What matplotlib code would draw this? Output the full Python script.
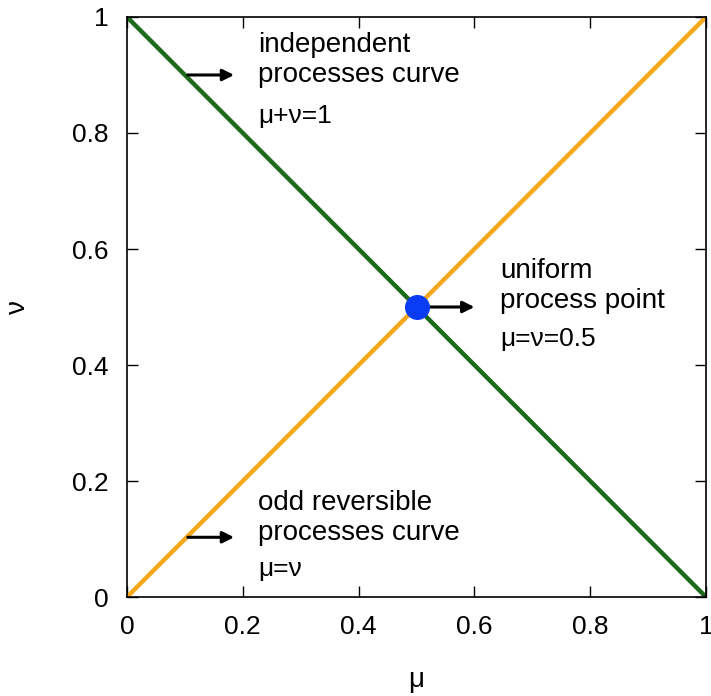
import matplotlib.pyplot as plt
import numpy as np

mu = np.array([0.0, 1.0])
nu_indep = 1 - mu
nu_odd = mu.copy()
point = (0.5, 0.5)

ticks = [0, 0.2, 0.4, 0.6, 0.8, 1]
tick_labels = ["0", "0.2", "0.4", "0.6", "0.8", "1"]

notes = [
    # (arrow start, arrow end, text position, lines, formula position, formula)
    ((0.105, 0.90), (0.185, 0.90), (0.227, 0.925), ["independent", "processes curve"], (0.227, 0.830), "μ+ν=1"),
    ((0.50, 0.50), (0.60, 0.50), (0.645, 0.537), ["uniform", "process point"], (0.645, 0.445), "μ=ν=0.5"),
    ((0.105, 0.103), (0.185, 0.103), (0.227, 0.137), ["odd reversible", "processes curve"], (0.227, 0.048), "μ=ν"),
]

fig = plt.figure(figsize=(7.11, 6.96), dpi=100)
ax = fig.add_axes([0.1786, 0.1422, 0.8144, 0.8334])

ax.plot(mu, nu_odd, color="#f5a81c", lw=3.2, solid_capstyle="butt")
ax.plot(mu, nu_indep, color="#1b6b1b", lw=3.2, solid_capstyle="butt")

for start, end, tpos, lines, fpos, formula in notes:
    ax.annotate("", xy=end, xytext=start,
                arrowprops=dict(arrowstyle="-|>", color="black", lw=2.2,
                                mutation_scale=17, shrinkA=0, shrinkB=0))
    ax.text(tpos[0], tpos[1], "\n".join(lines), fontsize=20, family="Liberation Sans",
            va="center", ha="left", linespacing=1.2)
    ax.text(fpos[0], fpos[1], formula, fontsize=19, family="Liberation Sans",
            va="center", ha="left")

ax.plot(*point, "o", color="#0a3cf5", ms=17, zorder=5)

ax.set_xlim(0, 1)
ax.set_ylim(0, 1)
ax.set_xticks(ticks)
ax.set_xticklabels(tick_labels)
ax.set_yticks(ticks)
ax.set_yticklabels(tick_labels)
ax.tick_params(direction="in", length=8, width=1, top=True, right=True,
               labelsize=19, pad=13)
for lab in ax.get_xticklabels() + ax.get_yticklabels():
    lab.set_family("Liberation Sans")
ax.set_xlabel("μ", fontsize=20, labelpad=20, family="Liberation Sans")
ax.set_ylabel("ν", fontsize=20, labelpad=30, rotation=90, family="Liberation Sans")
for s in ax.spines.values():
    s.set_linewidth(1.2)

fig.savefig("out.png", dpi=100)
